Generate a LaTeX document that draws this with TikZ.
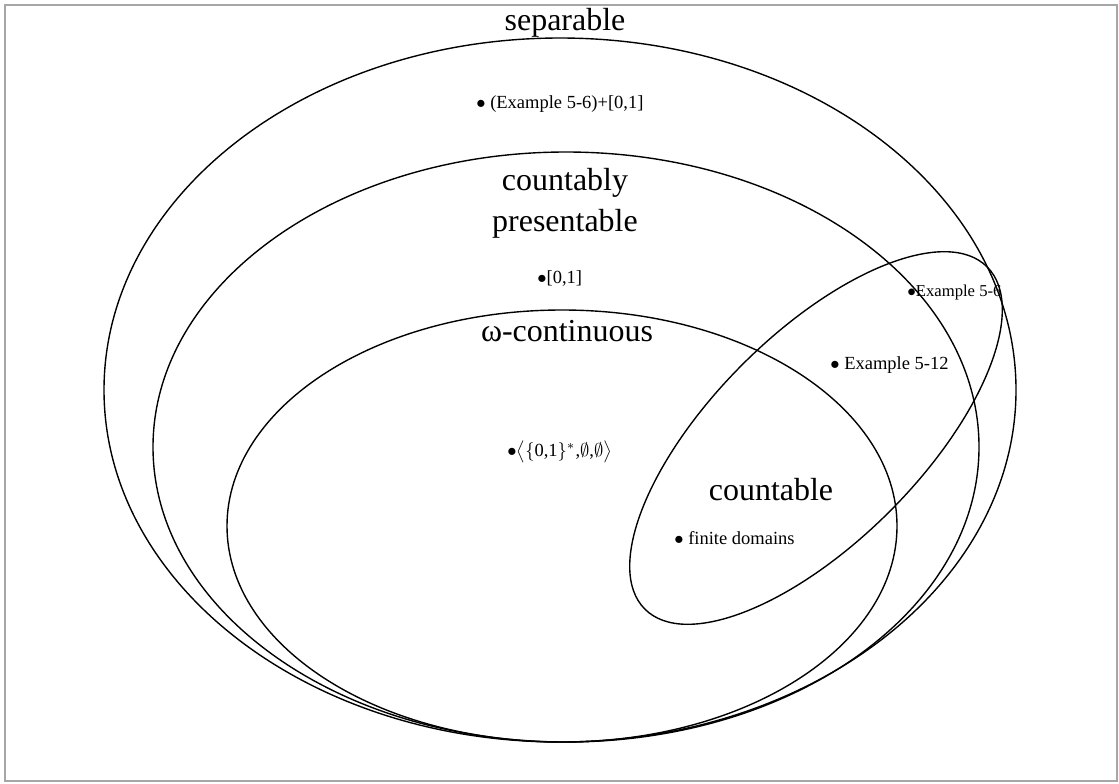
\documentclass[tikz,border=0pt]{standalone}
\usepackage{fontspec}
\setmainfont{Liberation Serif}

\tikzset{
  setline/.style={line width=0.75pt, draw=black},
  biglabel/.style={font=\LARGE, inner sep=0pt, align=center},
  member/.style={anchor=west, inner sep=0pt}
}
\newcommand{\dotmark}{$\bullet$}

\begin{document}
\begin{tikzpicture}[x=0.019cm, y=-0.019cm]
  \useasboundingbox (0,0) rectangle (1119,783);
  % Frame
  \draw[gray!70, line width=1pt] (5,5) rectangle (1117,781);

  % Classes
  \draw[setline] (560,390) ellipse [x radius=456, y radius=352];
  \draw[setline] (566,447) ellipse [x radius=413, y radius=295];
  \draw[setline] (562,526) ellipse [x radius=335, y radius=216];
  \draw[setline, rotate around={45:(816,438)}]
     (816,438) ellipse [x radius=242, y radius=104];

  % Labels
  \node[biglabel] (sep) at (565,23) {separable};
  \node[biglabel] (cpres) at (565,203) {countably\\presentable};
  \node[biglabel] (omega) at (567,331) {ω-continuous};
  \node[biglabel] (cnt) at (771,490) {countable};

  % Examples
  \node[member] (exsep) at (476,104) {\dotmark{} (Example 5-6)+[0,1]};
  \node[member] (unit) at (537,278) {\dotmark[0,1]};
  \node[member] (words) at (507,452)
     {\dotmark$\big\langle\{\mbox{0,1}\}^*\mbox{,}\emptyset\mbox{,}\emptyset\big\rangle$};
  \node[member] (fin) at (674,538) {\dotmark{} finite domains};
  \node[member] (ex12) at (830,365) {\dotmark{} Example 5-12};
  \node[member, font=\small] (ex6) at (907,292) {\dotmark Example 5-6};
\end{tikzpicture}
\end{document}
